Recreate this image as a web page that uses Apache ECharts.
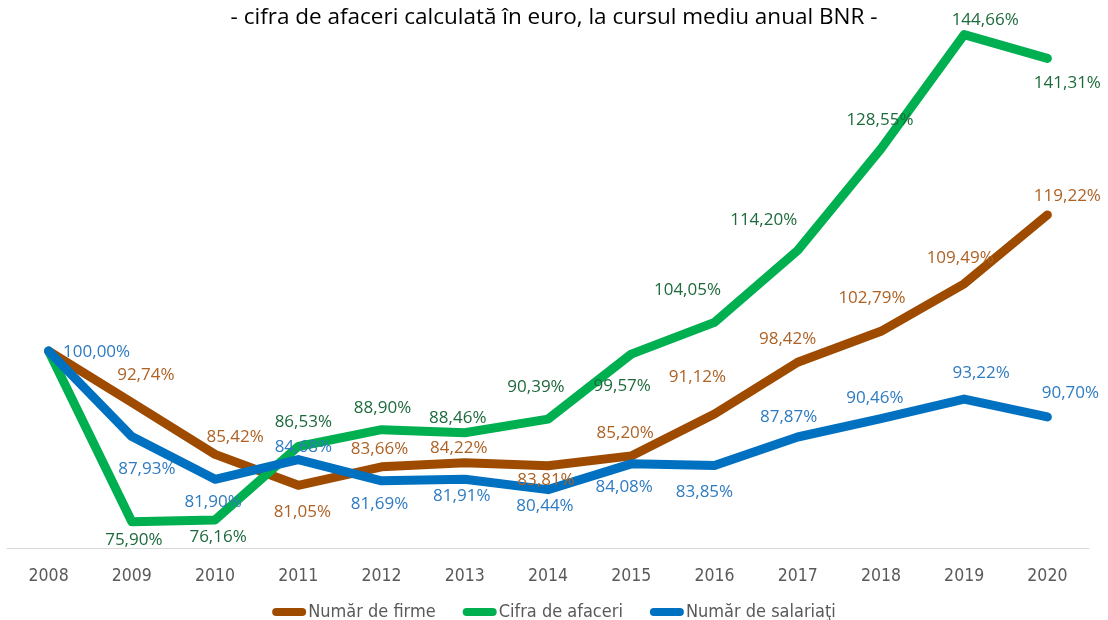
<!DOCTYPE html>
<html>
<head>
<meta charset="utf-8">
<script src="https://cdn.jsdelivr.net/npm/echarts@6/dist/echarts.min.js"></script>
<style>
html,body{margin:0;padding:0;background:#fff;}
#c{width:1108px;height:620px;}
</style>
</head>
<body>
<div id="c"></div>
<script>
var titleText = '- cifra de afaceri calculată în euro, la cursul mediu anual BNR -';
var years = ['2008','2009','2010','2011','2012','2013','2014','2015','2016','2017','2018','2019','2020'];
var seriesNames = ['Număr de firme', 'Cifra de afaceri', 'Număr de salariaţi'];
var firme = [100.00, 92.74, 85.42, 81.05, 83.66, 84.22, 83.81, 85.20, 91.12, 98.42, 102.79, 109.49, 119.22];
var cifra = [100.00, 75.90, 76.16, 86.53, 88.90, 88.46, 90.39, 99.57, 104.05, 114.20, 128.55, 144.66, 141.31];
var salariati = [100.00, 87.93, 81.90, 84.68, 81.69, 81.91, 80.44, 84.08, 83.85, 87.87, 90.46, 93.22, 90.70];

// label placement (offset of label centre from the point, in px); null = no label
var firmeLbl = [null,[14,-27],[20,-17],[4,27],[-2,-18],[-6,-15],[-2,14],[-6,-23],[-17,-37],[-10,-23],[-9,-33],[-4,-26],[20,-19]];
var cifraLbl = [null,[2,18],[3,17],[5,-24],[1,-22],[-7,-15],[-12,-32],[-9,32],[-27,-32],[-34,-30],[-1,-29],[21,-15],[20,25]];
var salLbl = [[48,1],[15,33],[-2,23],[5,-12],[-2,23],[-3,17],[-3,17],[-7,23],[-10,27],[-9,-20],[-6,-20],[17,-26],[23,-24]];

var lineColors = ['#9E4B00', '#00B050', '#0070C0'];
var labelColors = ['#AD6225', '#1E6A3C', '#2E7BC0'];
var condensed = "'DejaVu Sans Condensed', 'Roboto', sans-serif";

function fmt(v){ return v.toFixed(2).replace('.', ',') + '%'; }

function buildData(vals, lbls){
  return vals.map(function(v, i){
    var o = lbls[i];
    if(!o) return {value: v, label: {show: false}};
    return {value: v, label: {show: true, offset: o}};
  });
}

function mkSeries(idx, vals, lbls){
  return {
    name: seriesNames[idx],
    type: 'line',
    data: buildData(vals, lbls),
    symbol: 'circle',
    symbolSize: 1,
    showSymbol: true,
    itemStyle: {color: lineColors[idx]},
    lineStyle: {width: 9, color: lineColors[idx], cap: 'round', join: 'round'},
    label: {
      show: true,
      position: 'inside',
      align: 'center',
      verticalAlign: 'middle',
      formatter: function(p){ return fmt(p.value); },
      color: labelColors[idx],
      fontFamily: 'Open Sans',
      fontSize: 17
    },
    emphasis: {disabled: true},
    animation: false
  };
}

var chart = echarts.init(document.getElementById('c'), null, {renderer: 'canvas'});
chart.setOption({
  backgroundColor: '#ffffff',
  animation: false,
  title: {
    text: titleText,
    left: 'center',
    top: 1,
    textStyle: {fontFamily: 'Open Sans', fontSize: 22.5, fontWeight: 'normal', color: '#000000'}
  },
  legend: {
    top: 598,
    left: 'center',
    itemWidth: 34,
    itemHeight: 8,
    itemGap: 27,
    icon: 'path://M4,0 L30,0 A4,4 0 0 1 30,8 L4,8 A4,4 0 0 1 4,0 Z',
    textStyle: {fontFamily: condensed, fontSize: 18, color: '#595959', padding: [0,0,0,-3]},
    data: seriesNames
  },
  grid: {left: 7, right: 19, top: 11, bottom: 72, containLabel: false},
  xAxis: {
    type: 'category',
    data: years,
    boundaryGap: true,
    axisLine: {show: true, lineStyle: {color: '#D9D9D9', width: 1}},
    axisTick: {show: false},
    axisLabel: {margin: 19, fontFamily: condensed, fontSize: 17.5, color: '#595959'}
  },
  yAxis: {
    type: 'value',
    min: 72.2,
    max: 148,
    show: false,
    splitLine: {show: false}
  },
  series: [
    mkSeries(0, firme, firmeLbl),
    mkSeries(1, cifra, cifraLbl),
    mkSeries(2, salariati, salLbl)
  ]
});
</script>
</body>
</html>
